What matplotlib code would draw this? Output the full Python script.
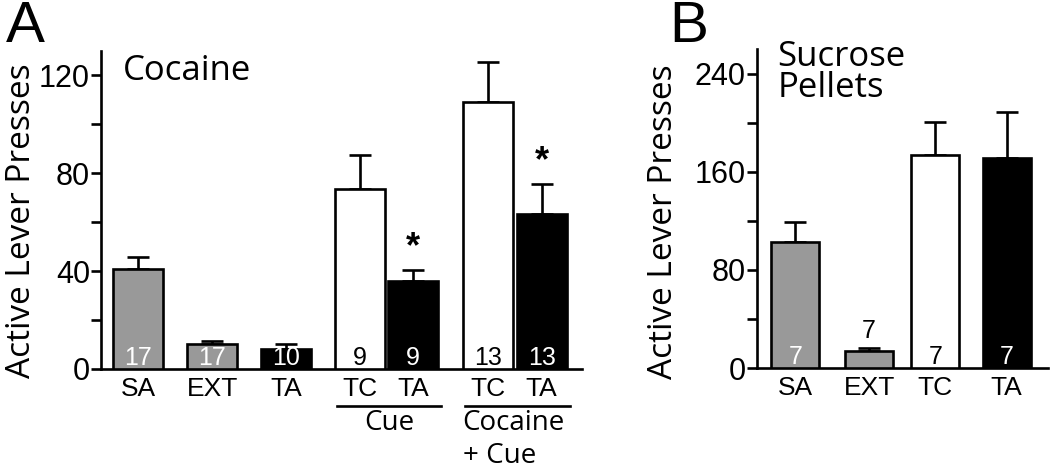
import matplotlib
matplotlib.use("Agg")
from matplotlib import pyplot as plt
import numpy as np

# panel A - cocaine
a_labels = ["SA", "EXT", "TA", "TC", "TA", "TC", "TA"]
a_means = [41, 10.2, 8.2, 73.4, 35.8, 109.1, 63.5]
a_err = [4.8, 1.1, 2.2, 13.9, 4.8, 16.5, 11.9]
a_n = ["17", "17", "10", "9", "9", "13", "13"]
a_sig = [False, False, False, False, True, False, True]
a_colors = ["#999999", "#999999", "black", "white", "black", "white", "black"]
a_pos = [0, 1.45, 2.9, 4.35, 5.4, 6.87, 7.92]

# panel B - sucrose pellets
b_labels = ["SA", "EXT", "TC", "TA"]
b_means = [103, 14, 174, 171]
b_err = [16, 2, 27, 38]
b_n = ["7", "7", "7", "7"]
b_colors = ["#999999", "#999999", "white", "black"]
b_pos = [0, 1.5, 2.85, 4.3]

hum = "Open Sans"
ari = "Liberation Sans"
lw = 1.9

fig = plt.figure(figsize=(10.5, 4.7), dpi=100)
axA = fig.add_axes([0.0962, 0.2149, 0.458, 0.677])
axB = fig.add_axes([0.721, 0.217, 0.277, 0.678])


def style(ax, ymax, major, minor):
	for s in ["top", "right"]:
		ax.spines[s].set_visible(False)
	for s in ["left", "bottom"]:
		ax.spines[s].set_linewidth(lw)
	ax.set_ylim(0, ymax)
	ax.set_yticks(major)
	ax.set_yticks(minor, minor=True)
	ax.tick_params(axis="y", which="both", direction="out", length=7, width=lw, labelsize=22, pad=1)
	ax.tick_params(axis="x", length=0, labelsize=19, pad=6)
	for t in ax.get_yticklabels() + ax.get_xticklabels():
		t.set_fontfamily(ari)
	ax.set_ylabel("Active Lever Presses", fontsize=24, family=hum)


def bars(ax, pos, means, err, colors, labels):
	ax.bar(pos, means, width=0.98, color=colors, edgecolor="black", linewidth=lw, zorder=3)
	ax.errorbar(pos, means, yerr=[np.zeros(len(means)), err], fmt="none", ecolor="black",
		elinewidth=lw, capsize=8, capthick=lw, zorder=2)
	ax.set_xticks(pos)
	ax.set_xticklabels(labels)


# --- A
bars(axA, a_pos, a_means, a_err, a_colors, a_labels)
style(axA, 130, [0, 40, 80, 120], [20, 60, 100])
axA.yaxis.set_label_coords(-0.13, 0.465)
axA.set_xlim(-0.73, 8.71)
for x, n, c in zip(a_pos, a_n, a_colors):
	tc = "black" if c == "white" else "white"
	axA.text(x, 4.5, n, ha="center", va="center", fontsize=18, family=ari, color=tc, zorder=4)
for x, m, e, s in zip(a_pos, a_means, a_err, a_sig):
	if s:
		axA.text(x, m + e + 2, "*", ha="center", va="bottom", fontsize=26, family=ari, fontweight="bold")
axA.text(0.045, 0.99, "Cocaine", transform=axA.transAxes, fontsize=25, family=hum, va="top")
fig.text(0.006, 1.0, "A", fontsize=42, family=ari, va="top")

# group underlines
for (x0, x1), lines in [((a_pos[3], a_pos[4]), ["Cue"]), ((a_pos[5], a_pos[6]), ["Cocaine", "+ Cue"])]:
	axA.plot([x0 - 0.45, x1 + 0.55], [-15, -15], color="black", lw=lw, clip_on=False)
	if len(lines) == 1:
		axA.text((x0 + x1) / 2 + 0.05, -16.5, lines[0], ha="center", va="top", fontsize=20, family=hum)
	else:
		axA.text(x0 - 0.5, -16.5, lines[0] + "\n" + lines[1], ha="left", va="top", fontsize=20,
			family=hum, linespacing=1.2)

# --- B
bars(axB, b_pos, b_means, b_err, b_colors, b_labels)
style(axB, 260, [0, 80, 160, 240], [40, 120, 200])
axB.yaxis.set_label_coords(-0.265, 0.46)
axB.set_xlim(-0.78, 5.14)
for i, (x, n, c) in enumerate(zip(b_pos, b_n, b_colors)):
	tc = "black" if c == "white" else "white"
	if i == 1:
		axB.text(x, 30, n, ha="center", va="center", fontsize=18, family=ari, color="black")
	else:
		axB.text(x, 9, n, ha="center", va="center", fontsize=18, family=ari, color=tc, zorder=4)
axB.text(0.07, 1.03, "Sucrose\nPellets", transform=axB.transAxes, fontsize=25, family=hum, va="top",
	linespacing=0.9)
fig.text(0.637, 1.0, "B", fontsize=42, family=ari, va="top")

fig.savefig("out.png", dpi=100)
